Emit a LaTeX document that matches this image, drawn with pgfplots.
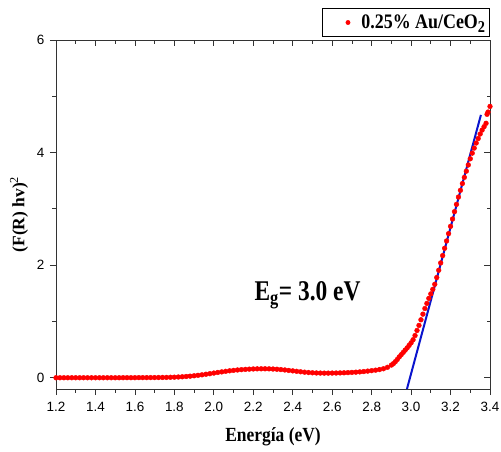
\documentclass[border=0pt]{standalone}
\usepackage{fontspec}
\setmainfont{Liberation Serif}
\newfontfamily\arial{Liberation Sans}
\usepackage{graphicx}
\usepackage{pgfplots}
\pgfplotsset{compat=1.18}
\definecolor{fitblue}{RGB}{10,20,205}
\pgfplotstableread{
x y
1.20 0.000
1.22 0.000
1.24 0.000
1.26 0.000
1.28 0.000
1.30 0.000
1.32 0.000
1.34 0.000
1.36 0.000
1.38 0.000
1.40 0.000
1.42 0.000
1.44 0.000
1.46 0.000
1.48 0.000
1.50 0.000
1.52 0.000
1.54 0.001
1.56 0.001
1.58 0.001
1.60 0.001
1.62 0.002
1.64 0.002
1.66 0.002
1.68 0.003
1.70 0.003
1.72 0.004
1.74 0.005
1.76 0.006
1.78 0.008
1.80 0.010
1.82 0.013
1.84 0.017
1.86 0.022
1.88 0.028
1.90 0.035
1.92 0.043
1.94 0.052
1.96 0.062
1.98 0.072
2.00 0.083
2.02 0.094
2.04 0.104
2.06 0.114
2.08 0.123
2.10 0.131
2.12 0.138
2.14 0.144
2.16 0.149
2.18 0.153
2.20 0.156
2.22 0.158
2.24 0.159
2.26 0.159
2.28 0.158
2.30 0.155
2.32 0.151
2.34 0.145
2.36 0.138
2.38 0.130
2.40 0.122
2.42 0.114
2.44 0.106
2.46 0.099
2.48 0.093
2.50 0.088
2.52 0.085
2.54 0.083
2.56 0.082
2.58 0.082
2.60 0.083
2.62 0.084
2.64 0.086
2.66 0.088
2.68 0.091
2.70 0.095
2.72 0.099
2.74 0.104
2.76 0.110
2.78 0.118
2.80 0.126
2.82 0.135
2.84 0.146
2.86 0.160
2.88 0.185
2.90 0.225
2.91 0.250
2.92 0.285
2.93 0.325
2.94 0.370
2.95 0.410
2.96 0.450
2.97 0.490
2.98 0.530
2.99 0.575
3.00 0.620
3.01 0.675
3.02 0.750
3.03 0.840
3.04 0.930
3.05 1.030
3.06 1.130
3.07 1.230
3.08 1.320
3.09 1.410
3.10 1.490
3.11 1.570
3.12 1.660
3.13 1.780
3.14 1.910
3.15 2.040
3.16 2.170
3.17 2.300
3.18 2.430
3.19 2.560
3.20 2.690
3.21 2.820
3.22 2.950
3.23 3.080
3.24 3.210
3.25 3.330
3.26 3.450
3.27 3.560
3.28 3.670
3.29 3.780
3.30 3.890
3.31 3.990
3.32 4.080
3.33 4.170
3.34 4.250
3.35 4.330
3.36 4.400
3.37 4.460
3.38 4.520
3.385 4.680
3.39 4.720
3.40 4.820
}\datatable

\begin{document}
\begin{tikzpicture}
\path[use as bounding box] (-56bp,-63bp) rectangle (445bp,389bp);
\pgfplotsset{
 common/.style={scale only axis, width=434bp, height=349bp,
   xmin=1.2, xmax=3.4, ymin=-0.2, ymax=6,
   at={(0,0)}, anchor=south west,
   xtick={1.2,1.4,1.6,1.8,2.0,2.2,2.4,2.6,2.8,3.0,3.2,3.4},
   ytick={0,2,4,6},
   minor x tick num=1, minor y tick num=1,
   major tick length=6bp, minor tick length=3.5bp,
   axis line style={line width=0.8bp, black!80},
   every tick/.style={line width=0.8bp, black!80},
   clip=false},
}
\begin{axis}[common,
   axis x line*=top, axis y line*=right, tick align=inside,
   xticklabels={}, yticklabels={}]
\end{axis}
\begin{axis}[common,
   axis x line*=bottom, axis y line*=left, tick align=outside,
   /pgf/number format/assume math mode=true,
   ticklabel style={font=\arial\fontsize{13.5}{15}\selectfont},
   xticklabel style={yshift=-4bp, /pgf/number format/.cd, fixed, fixed zerofill, precision=1},
   yticklabel style={xshift=-2bp, /pgf/number format/.cd, fixed, precision=0},
   xlabel={\scalebox{1}[1.15]{\textbf{Energía (eV)}}},
   ylabel={\textbf{(F(R) hv)}\textsuperscript{2}},
   xlabel style={yshift=-9bp},
   ylabel style={yshift=2bp},
   label style={font=\fontsize{17.5}{20}\selectfont},
   legend style={at={(1,1)}, anchor=south east, yshift=3bp, draw=black, line width=0.8bp,
     font=\fontsize{18}{21}\selectfont\bfseries, inner xsep=2bp, inner ysep=4.5bp},
   legend image code/.code={\fill[red] (0bp,0bp) circle (2bp); \path (-23bp,0) (11bp,0);},
   legend cell align=left]
\addplot[only marks, mark=*, mark size=2.4bp, mark options={fill=red, draw=none}, color=red] table[x=x,y=y] {\datatable};
\addlegendentry{\scalebox{1}[1.15]{0.25\% Au/CeO\textsubscript{\Large 2}}}
\addplot[fitblue, line width=2bp, no marks, forget plot] coordinates {(2.979,-0.2) (3.354,4.67)};
\node[font=\fontsize{23.5}{26}\selectfont\bfseries] at (axis cs:2.475,1.47) {\scalebox{1}[1.22]{E\textsubscript{g}= 3.0 eV}};
\end{axis}
\end{tikzpicture}
\end{document}
